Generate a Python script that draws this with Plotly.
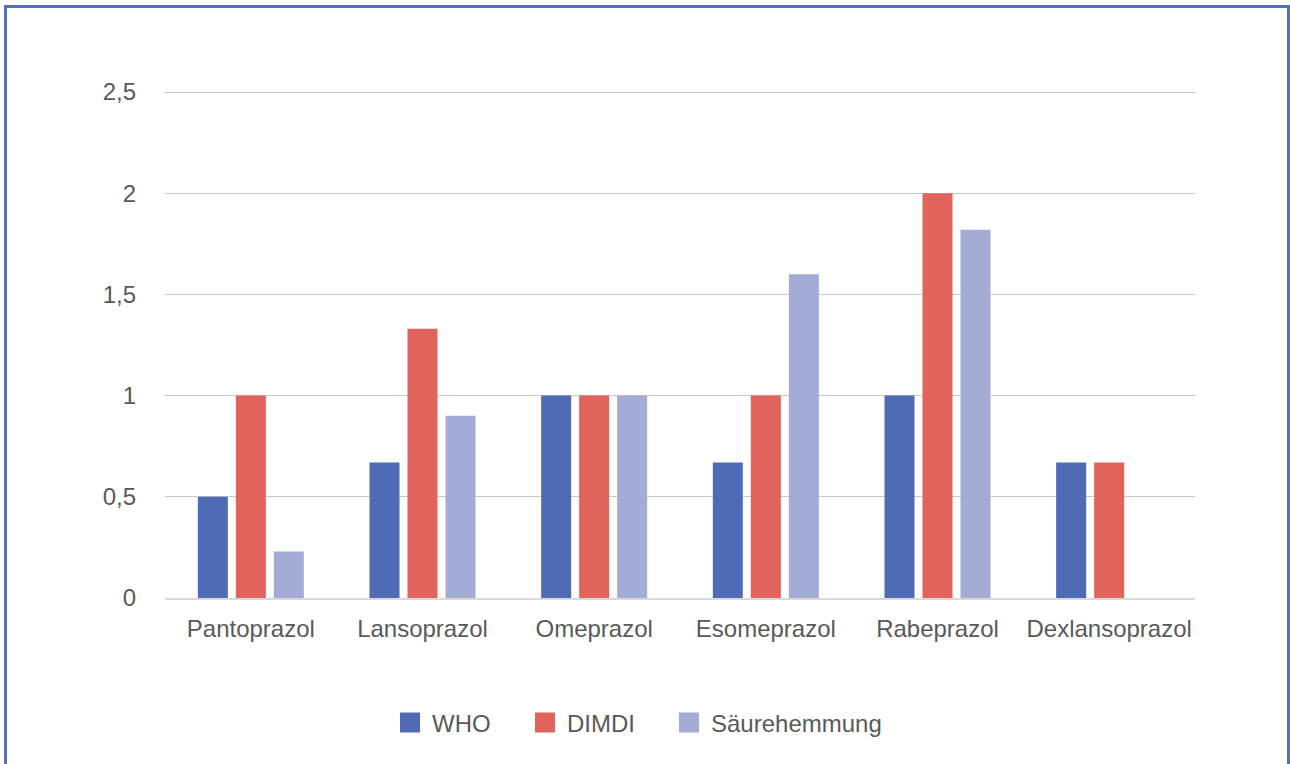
import plotly.graph_objects as go

categories = ["Pantoprazol", "Lansoprazol", "Omeprazol", "Esomeprazol", "Rabeprazol", "Dexlansoprazol"]
who = [0.5, 0.67, 1.0, 0.67, 1.0, 0.67]
dimdi = [1.0, 1.33, 1.0, 1.0, 2.0, 0.67]
saeure = [0.23, 0.9, 1.0, 1.6, 1.82, None]
y_ticks = [0, 0.5, 1, 1.5, 2, 2.5]

series = [("WHO", who, "#4F6BB5"), ("DIMDI", dimdi, "#E0635C"), ("Säurehemmung", saeure, "#A4ACD6")]
legend_ids = ["legend", "legend2", "legend3"]
legend_left_px = [388, 523, 667]

W, H = 1290, 764
L, R, T, B = 165, 95, 90, 166
pw, ph = W - L - R, H - T - B
y_top = 2.51

fig = go.Figure()
for name, vals, col in series:
    fig.add_trace(go.Bar(x=categories, y=vals, name=name, showlegend=False,
                         marker=dict(color=col, line=dict(width=0))))
for (name, vals, col), lid in zip(series, legend_ids):
    fig.add_trace(go.Scatter(x=[None], y=[None], mode="markers", name=name, showlegend=True,
                             legend=lid,
                             marker=dict(symbol="square", size=16, color=col,
                                         line=dict(color=col, width=4))))

def px2x(p):
    return (p - L) / pw

legends = {}
for lid, lx in zip(legend_ids, legend_left_px):
    legends[lid] = dict(orientation="h", xref="container", yref="container", x=lx / W, xanchor="left",
                        y=(H - 723) / H, yanchor="middle", font=dict(size=24, color="#595959"),
                        itemsizing="trace", itemwidth=34, bgcolor="rgba(0,0,0,0)")

fig.update_layout(
    width=W, height=H,
    margin=dict(l=L, r=R, t=T, b=B),
    paper_bgcolor="white", plot_bgcolor="white",
    separators=",.",
    font=dict(family="Liberation Sans, Arial, sans-serif", size=24, color="#595959"),
    barmode="group", bargap=0.336, bargroupgap=0.21,
    showlegend=True,
    xaxis=dict(showgrid=False, showline=True, linecolor="#D9D9D9", linewidth=1.5, ticks="",
               tickfont=dict(size=24, color="#595959"), ticklabelstandoff=8),
    yaxis=dict(range=[0, y_top], tickvals=y_ticks, showgrid=True, gridcolor="#C8C8C8", gridwidth=1,
               zeroline=False, showline=False, ticks="", ticklabelstandoff=28,
               tickfont=dict(size=24, color="#595959")),
    shapes=[dict(type="rect", xref="paper", yref="paper",
                 x0=px2x(5.5), x1=px2x(1288.5), y0=(H - B - 900) / ph, y1=(H - B - 6.5) / ph,
                 line=dict(color="#5470B8", width=3), fillcolor="rgba(0,0,0,0)", layer="below")],
    **legends,
)

fig.write_html("out.html")
